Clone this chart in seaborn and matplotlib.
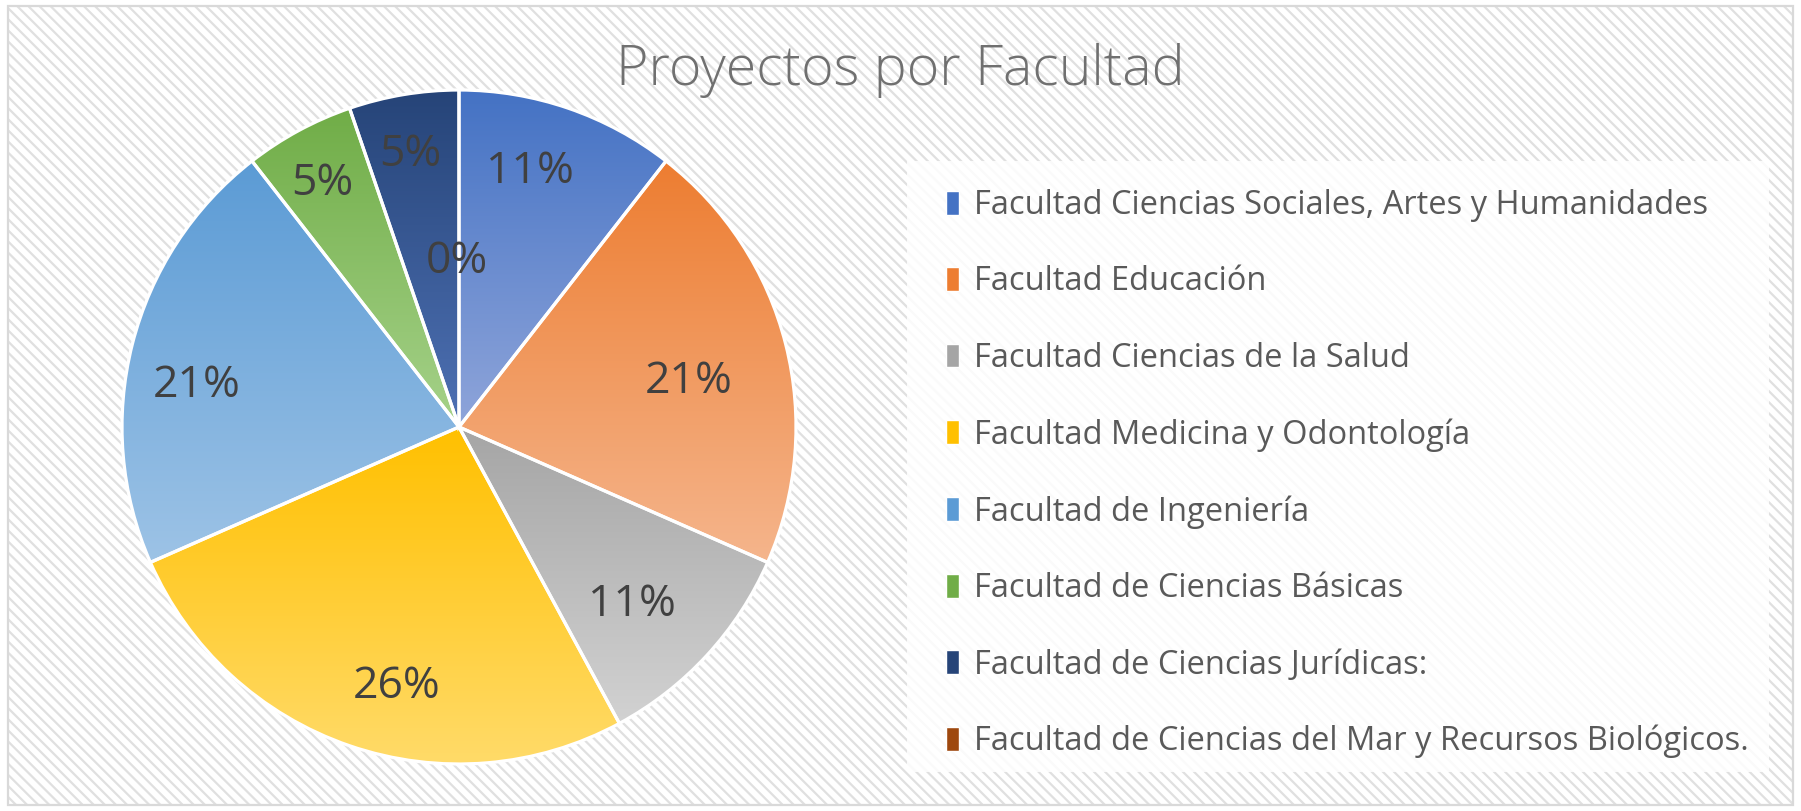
import numpy as np
import pandas as pd
import matplotlib.pyplot as plt
import seaborn as sns
from matplotlib.patches import Rectangle
from matplotlib.colors import to_rgb

# data
facultades = ['Facultad Ciencias Sociales, Artes y Humanidades',
              'Facultad Educación',
              'Facultad Ciencias de la Salud',
              'Facultad Medicina y Odontología',
              'Facultad de Ingeniería',
              'Facultad de Ciencias Básicas',
              'Facultad de Ciencias Jurídicas:',
              'Facultad de Ciencias del Mar y Recursos Biológicos.']
proyectos = [2, 4, 2, 5, 4, 1, 1, 0]

# gradient colours (top, bottom) per slice
col_top = ['#4472C4', '#ED7D31', '#A5A5A5', '#FFC000', '#5B9BD5', '#70AD47', '#264478', '#9E480E']
col_bot = ['#8FA5DA', '#F5B58C', '#D2D2D2', '#FFDB6A', '#9DC3E6', '#A6D28A', '#4E71B4', '#F08A40']
# where the % labels sit (in units of the radius), as in the original
lbl_xy = [(0.211, 0.756), (0.681, 0.133), (0.514, -0.528), (-0.184, -0.770),
          (-0.777, 0.123), (-0.405, 0.722), (-0.143, 0.807), (-0.007, 0.491)]

df = pd.DataFrame({'facultad': facultades, 'n': proyectos})

sns.set_theme(style='white')
plt.rcParams['font.family'] = ['Open Sans', 'DejaVu Sans']
plt.rcParams['hatch.linewidth'] = 1.6
plt.rcParams['hatch.color'] = '#e0e0e0'

W, H = 1801, 811
fig = plt.figure(figsize=(W/100, H/100), dpi=100)

# hatched background + border
bg = Rectangle((8/W, 6/H), 1 - 16/W, 1 - 12/H, transform=fig.transFigure,
               facecolor='white', edgecolor='#e0e0e0', hatch='\\\\\\', lw=0, zorder=-10)
fig.patches.append(bg)
border = Rectangle((8/W, 6/H), 1 - 16/W, 1 - 12/H, transform=fig.transFigure,
                   facecolor='none', edgecolor='#d9d9d9', lw=1.6, zorder=-9)
fig.patches.append(border)

# legend background
leg_bg = Rectangle((907/W, 1 - 772/H), (1769-907)/W, (772-161)/H, transform=fig.transFigure,
                   facecolor='white', edgecolor='none', alpha=0.85, zorder=-8)
fig.patches.append(leg_bg)

cx, cy, r = 459, 427, 337
ax = fig.add_axes([(cx - r)/W, (H - cy - r)/H, 2*r/W, 2*r/H])
ax.patch.set_alpha(0)

wedges, texts, autotexts = ax.pie(df['n'], startangle=90, counterclock=False,
                                  colors=col_top, autopct='%1.0f%%',
                                  wedgeprops=dict(edgecolor='white', linewidth=2.3),
                                  textprops=dict(color='#404040', fontsize=32))

for i, w in enumerate(wedges):
    verts = w.get_patch_transform().transform(w.get_path().vertices)
    if proyectos[i] > 0:
        x0, x1 = verts[:, 0].min(), verts[:, 0].max()
        y0, y1 = verts[:, 1].min(), verts[:, 1].max()
        t = np.linspace(0, 1, 256)[:, None]
        grad = (1 - t) * np.array(to_rgb(col_top[i])) + t * np.array(to_rgb(col_bot[i]))
        img = ax.imshow(grad[:, None, :], extent=[x0, x1, y0, y1], origin='upper',
                        aspect='auto', zorder=1, interpolation='bilinear')
        img.set_clip_path(w)
        w.set_facecolor('none')
        w.set_zorder(2)
    autotexts[i].set_position(lbl_xy[i])
    autotexts[i].set_zorder(3)
ax.set_xlim(-1, 1)
ax.set_ylim(-1, 1)
ax.set_aspect('equal')

fig.text(0.5, 1 - 71/H, 'Proyectos por Facultad', ha='center', va='center',
         fontsize=40, color='#707070', fontweight='light')

handles = [Rectangle((0, 0), 1, 1, facecolor=c) for c in col_top]
fig.legend(handles, facultades, loc='upper left', bbox_to_anchor=(933/W, 1 - 176/H),
           frameon=False, fontsize=23.5, labelcolor='#595959', handlelength=0.4,
           handleheight=0.75, handletextpad=0.45, labelspacing=1.33, borderaxespad=0)

fig.savefig('out.png', dpi=100)
